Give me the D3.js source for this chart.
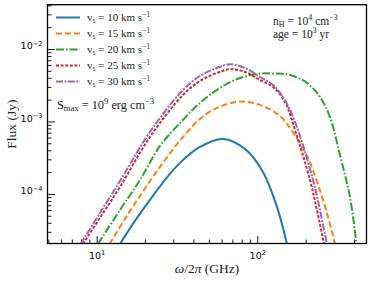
<!DOCTYPE html>
<html><head><meta charset="utf-8">
<script src="https://cdn.jsdelivr.net/npm/d3@7"></script>
<style>body{margin:0;background:#fff} svg{display:block}</style>
</head><body><svg id="c" width="374" height="281"></svg>
<script>
// ---- data ----
const velocities = [10, 15, 20, 25, 30];
const freq10 = [13.97, 17.32, 21.47, 26.63, 33.02, 43.98, 61.15, 83.85, 108.5, 132.7, 153.1];
const flux10 = [2.04e-5, 4.24e-5, 8.26e-5, 1.56e-4, 2.68e-4, 4.45e-4, 5.74e-4, 4.18e-4, 2.01e-4, 6.62e-5, 2.04e-5];
const freq15 = [12.02, 15.01, 18.61, 24.79, 34.47, 43.98, 56.13, 78.06, 103.9, 138.4, 164.5, 198.2, 222.3, 271.6, 304.7];
const flux15 = [2.04e-5, 4.52e-5, 9.38e-5, 2.36e-4, 6.11e-4, 1.08e-3, 1.54e-3, 1.88e-3, 1.69e-3, 1.19e-3, 7.39e-4, 3.80e-4, 2.14e-4, 5.47e-5, 2.04e-5];
const freq20 = [10.19, 13.97, 18.61, 24.79, 34.47, 43.98, 56.13, 72.63, 99.57, 125.2, 159.8, 204.0, 245.7, 283.6, 327.3, 377.8, 414.7];
const flux20 = [2.04e-5, 6.01e-5, 1.56e-4, 4.59e-4, 1.05e-3, 1.80e-3, 2.72e-3, 3.74e-3, 4.52e-3, 4.59e-3, 4.38e-3, 3.40e-3, 2.18e-3, 1.15e-3, 3.45e-4, 9.09e-5, 2.04e-5];
const freq25 = [8.22, 10.48, 13.97, 21.47, 34.47, 43.98, 56.13, 67.61, 83.85, 103.9, 125.2, 148.8, 174.2, 212.9, 235.3, 260.2];
const flux25 = [2.04e-5, 4.67e-5, 1.25e-4, 6.11e-4, 2.32e-3, 3.62e-3, 4.67e-3, 5.25e-3, 4.82e-3, 3.74e-3, 2.99e-3, 1.86e-3, 6.94e-4, 1.56e-4, 6.01e-5, 2.04e-5];
const freq30 = [7.95, 10.48, 13.97, 21.47, 34.47, 43.98, 56.13, 67.61, 83.85, 103.9, 125.2, 150.9, 179.2, 222.3, 245.7, 271.6];
const flux30 = [2.04e-5, 5.47e-5, 1.51e-4, 7.16e-4, 2.72e-3, 4.24e-3, 5.47e-3, 6.15e-3, 5.47e-3, 4.11e-3, 3.19e-3, 1.86e-3, 7.63e-4, 1.56e-4, 6.01e-5, 2.04e-5];
const xMajorTicks = [10, 100];
const yMajorTicks = [1e-4, 1e-3, 1e-2];
const xDomain = [4.94, 479];
const yDomain = [2.07e-5, 0.0408];

const series = [
  {v: velocities[0], f: freq10, s: flux10, color: "#1f77b4", dash: null},
  {v: velocities[1], f: freq15, s: flux15, color: "#ff7f0e", dash: "6,3"},
  {v: velocities[2], f: freq20, s: flux20, color: "#2ca02c", dash: "8,2,1.6,2"},
  {v: velocities[3], f: freq25, s: flux25, color: "#d62728", dash: "3,1.6"},
  {v: velocities[4], f: freq30, s: flux30, color: "#9467bd", dash: "7,1.4,2,1.4"}
];

const svg = d3.select("#c");
const L = 47.5, R = 366.5, T = 4.7, B = 243.5;
const x = d3.scaleLog().domain(xDomain).range([L, R]);
const y = d3.scaleLog().domain(yDomain).range([B, T]);
const SERIF = "'Liberation Serif','DejaVu Serif',serif";
const SANS = "'DejaVu Sans',sans-serif";

function rich(sel, parts, size) {
  let shift = 0;
  parts.forEach(p => {
    const txt = typeof p === "string" ? p : p[0];
    const kind = typeof p === "string" ? null : p[1];
    const target = kind === "sup" ? -0.4 * size : kind === "sub" ? 0.2 * size : 0;
    const ts = sel.append("tspan").attr("dy", target - shift)
      .attr("font-size", (kind === "sup" || kind === "sub") ? size * 0.7 : size).text(txt);
    if (kind === "it") ts.attr("font-style", "italic");
    shift = target;
  });
}

svg.append("defs").append("clipPath").attr("id", "clip")
  .append("rect").attr("x", L).attr("y", T).attr("width", R - L).attr("height", B - T);

function minors(domain) {
  const out = [];
  for (let e = Math.floor(Math.log10(domain[0])); e <= Math.ceil(Math.log10(domain[1])); e++) {
    for (let k = 2; k <= 9; k++) {
      const v = k * Math.pow(10, e);
      if (v > domain[0] * 1.01 && v < domain[1] * 0.995) out.push(v);
    }
  }
  return out;
}

// x axis
const gx = svg.append("g").attr("transform", `translate(0,${B})`);
gx.call(d3.axisBottom(x).tickValues(minors(xDomain)).tickSize(-4).tickFormat(""));
const gxM = svg.append("g").attr("transform", `translate(0,${B})`);
gxM.call(d3.axisBottom(x).tickValues(xMajorTicks).tickSize(-7.5).tickFormat(""));
gxM.selectAll(".tick").each(function(d) {
  const t = d3.select(this).append("text").attr("fill", "#000").attr("y", 15)
    .attr("text-anchor", "middle").attr("font-family", SANS);
  rich(t, ["10", [String(Math.round(Math.log10(d))), "sup"]], 9.5);
});
// y axis
const gy = svg.append("g").attr("transform", `translate(${L},0)`);
gy.call(d3.axisLeft(y).tickValues(minors(yDomain)).tickSize(-4).tickFormat(""));
const gyM = svg.append("g").attr("transform", `translate(${L},0)`);
gyM.call(d3.axisLeft(y).tickValues(yMajorTicks).tickSize(-7.5).tickFormat(""));
gyM.selectAll(".tick").each(function(d) {
  const t = d3.select(this).append("text").attr("fill", "#000").attr("x", -5).attr("dy", 3.5)
    .attr("text-anchor", "end").attr("font-family", SANS);
  rich(t, ["10", ["\u2212" + String(Math.round(-Math.log10(d))), "sup"]], 9.5);
});
svg.selectAll(".domain").remove();
svg.selectAll(".tick line").attr("stroke", "#000").attr("stroke-width", 0.9);

// curves
const line = d3.line().x(d => x(d[0])).y(d => y(d[1])).curve(d3.curveCatmullRom.alpha(0.5));
const gc = svg.append("g").attr("clip-path", "url(#clip)");
series.forEach(s => {
  gc.append("path").attr("d", line(s.f.map((f, i) => [f, s.s[i]])))
    .attr("fill", "none").attr("stroke", s.color).attr("stroke-width", 2)
    .attr("stroke-dasharray", s.dash);
});

// frame
svg.append("rect").attr("x", L).attr("y", T).attr("width", R - L).attr("height", B - T)
  .attr("fill", "none").attr("stroke", "#000").attr("stroke-width", 1.3);

// legend
series.forEach((s, i) => {
  const cy = 17.5 + i * 16;
  svg.append("line").attr("x1", 56).attr("x2", 80).attr("y1", cy).attr("y2", cy)
    .attr("stroke", s.color).attr("stroke-width", 2).attr("stroke-dasharray", s.dash);
  const t = svg.append("text").attr("x", 87).attr("y", cy + 3.5).attr("font-family", SERIF).attr("fill", "#222");
  rich(t, ["v", ["s", "sub"], ` = ${s.v} km s`, ["\u22121", "sup"]], 11);
});

// annotations
let t = svg.append("text").attr("x", 57).attr("y", 109).attr("font-family", SERIF).attr("fill", "#222");
rich(t, ["S", ["max", "sub"], " = 10", ["9", "sup"], " erg cm", ["\u22123", "sup"]], 12.3);
t = svg.append("text").attr("x", 273).attr("y", 24.5).attr("font-family", SERIF).attr("fill", "#222");
rich(t, ["n", ["H", "sub"], " = 10", ["4", "sup"], " cm", ["\u22123", "sup"]], 11.5);
t = svg.append("text").attr("x", 273).attr("y", 38).attr("font-family", SERIF).attr("fill", "#222");
rich(t, ["age = 10", ["3", "sup"], " yr"], 11.5);

// axis labels
svg.append("text").attr("transform", `translate(16,${(T + B) / 2}) rotate(-90)`)
  .attr("text-anchor", "middle").attr("font-family", SERIF).attr("font-size", 13.5).attr("fill", "#222")
  .text("Flux (Jy)");
const xl = svg.append("text").attr("x", (L + R) / 2).attr("y", 273)
  .attr("text-anchor", "middle").attr("font-family", SERIF).attr("fill", "#222");
rich(xl, [["\u03c9", "it"], "/2", ["\u03c0", "it"], " (GHz)"], 13.5);
</script></body></html>
